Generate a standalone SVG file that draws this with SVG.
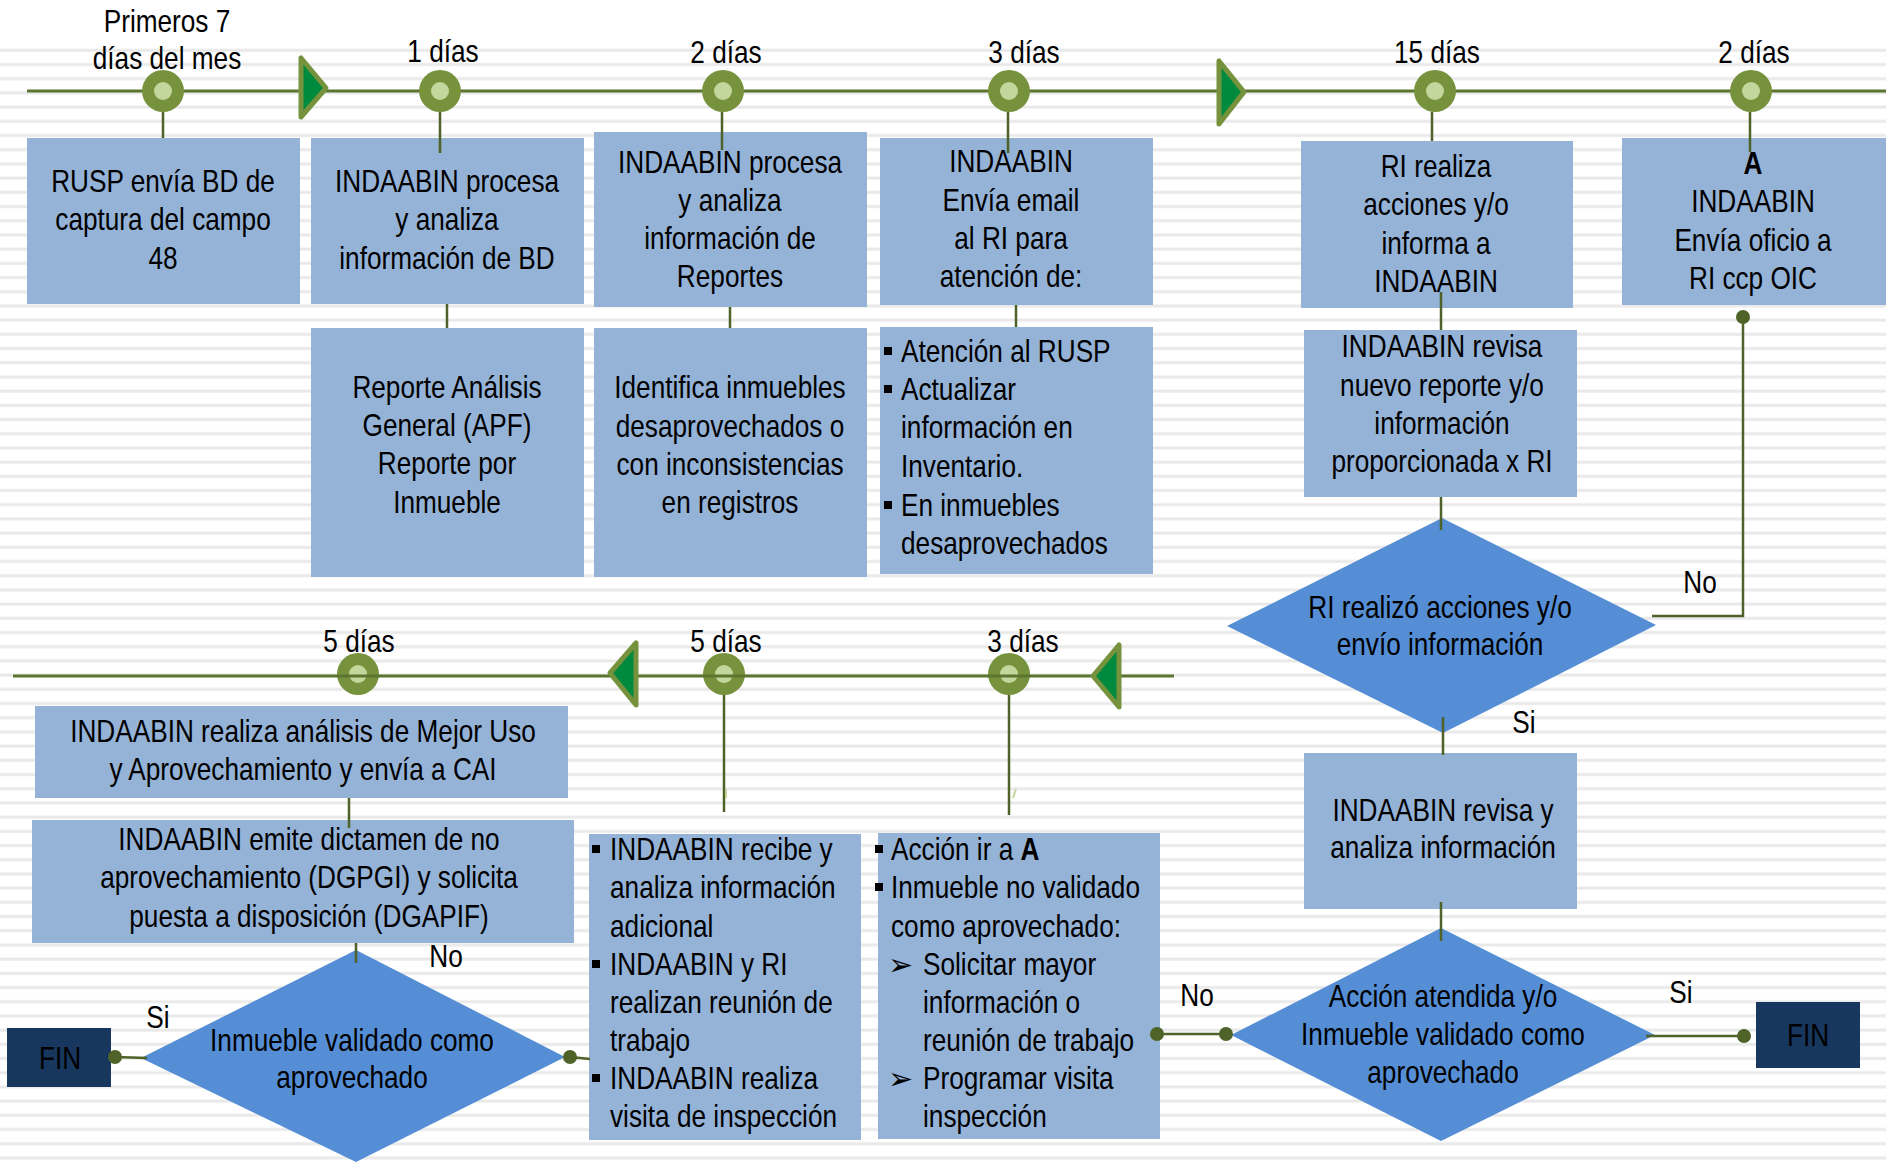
<svg xmlns="http://www.w3.org/2000/svg" width="1886" height="1162" viewBox="0 0 1886 1162">
<defs>
<pattern id="stripes" x="0" y="0" width="40" height="14.2" patternUnits="userSpaceOnUse">
<rect x="0" y="6.2" width="40" height="3" fill="#e9e9e9"/>
</pattern>
<style>
.t{font-family:"Liberation Sans",Arial,sans-serif;font-size:31px;fill:#000}
.box{fill:#95B3D7}
.dia{fill:#558ED5}
.fin{fill:#17375E}
.ln{stroke:#4F6228;stroke-width:2.5;fill:none}
.tl{stroke:#5B7530;stroke-width:3;fill:none}
.dot{fill:#4F6228}
.co{fill:#76923C}
.ci{fill:#C3D69B}
.tri{fill:#008A3E;stroke:#76923C;stroke-width:5;stroke-linejoin:round}
.bul{fill:#000}
.arr{font-family:"DejaVu Sans",sans-serif;font-size:30px;fill:#000}
</style>
</defs>
<rect x="0" y="0" width="1886" height="1162" fill="#fff"/>
<rect x="0" y="44" width="1886" height="1118" fill="url(#stripes)"/>

<g id="timeline-bottom-markers">
<circle class="co" cx="358" cy="674" r="21"/><circle class="ci" cx="358" cy="674" r="9"/>
<circle class="co" cx="724" cy="674" r="21"/><circle class="ci" cx="724" cy="674" r="9"/>
<circle class="co" cx="1009" cy="674" r="21"/><circle class="ci" cx="1009" cy="674" r="9"/>
</g>

<g id="labels">
<text class="t" text-anchor="middle" transform="matrix(0.845 0 0 1 167 0)"><tspan x="0" y="32">Primeros 7</tspan><tspan x="0" y="69">días del mes</tspan></text>
<text class="t" text-anchor="middle" transform="matrix(0.845 0 0 1 443 0)"><tspan x="0" y="62">1 días</tspan></text>
<text class="t" text-anchor="middle" transform="matrix(0.845 0 0 1 726 0)"><tspan x="0" y="63">2 días</tspan></text>
<text class="t" text-anchor="middle" transform="matrix(0.845 0 0 1 1024 0)"><tspan x="0" y="63">3 días</tspan></text>
<text class="t" text-anchor="middle" transform="matrix(0.845 0 0 1 1437 0)"><tspan x="0" y="63">15 días</tspan></text>
<text class="t" text-anchor="middle" transform="matrix(0.845 0 0 1 1754 0)"><tspan x="0" y="63">2 días</tspan></text>
<text class="t" text-anchor="middle" transform="matrix(0.845 0 0 1 359 0)"><tspan x="0" y="652">5 días</tspan></text>
<text class="t" text-anchor="middle" transform="matrix(0.845 0 0 1 726 0)"><tspan x="0" y="652">5 días</tspan></text>
<text class="t" text-anchor="middle" transform="matrix(0.845 0 0 1 1023 0)"><tspan x="0" y="652">3 días</tspan></text>
<text class="t" text-anchor="middle" transform="matrix(0.845 0 0 1 1700 0)"><tspan x="0" y="593">No</tspan></text>
<text class="t" text-anchor="middle" transform="matrix(0.845 0 0 1 1524 0)"><tspan x="0" y="733">Si</tspan></text>
<text class="t" text-anchor="middle" transform="matrix(0.845 0 0 1 1681 0)"><tspan x="0" y="1003">Si</tspan></text>
<text class="t" text-anchor="middle" transform="matrix(0.845 0 0 1 1197 0)"><tspan x="0" y="1006">No</tspan></text>
<text class="t" text-anchor="middle" transform="matrix(0.845 0 0 1 446 0)"><tspan x="0" y="967">No</tspan></text>
<text class="t" text-anchor="middle" transform="matrix(0.845 0 0 1 158 0)"><tspan x="0" y="1028">Si</tspan></text>
</g>

<g id="n-rusp">
<rect class="box" x="27" y="138" width="273" height="166"/>
<text class="t" text-anchor="middle" transform="matrix(0.845 0 0 1 163 0)"><tspan x="0" y="192">RUSP envía BD de</tspan><tspan x="0" y="230">captura del campo</tspan><tspan x="0" y="269">48</tspan></text>
</g>
<g id="n-procesa-bd">
<rect class="box" x="311" y="138" width="273" height="166"/>
<text class="t" text-anchor="middle" transform="matrix(0.845 0 0 1 447 0)"><tspan x="0" y="192">INDAABIN procesa</tspan><tspan x="0" y="230">y analiza</tspan><tspan x="0" y="269">información de BD</tspan></text>
</g>
<g id="n-procesa-rep">
<rect class="box" x="594" y="132" width="273" height="175"/>
<text class="t" text-anchor="middle" transform="matrix(0.845 0 0 1 730 0)"><tspan x="0" y="173">INDAABIN procesa</tspan><tspan x="0" y="211">y analiza</tspan><tspan x="0" y="249">información de</tspan><tspan x="0" y="287">Reportes</tspan></text>
</g>
<g id="n-email">
<rect class="box" x="880" y="138" width="273" height="167"/>
<text class="t" text-anchor="middle" transform="matrix(0.845 0 0 1 1011 0)"><tspan x="0" y="172">INDAABIN</tspan><tspan x="0" y="211">Envía email</tspan><tspan x="0" y="249">al RI para</tspan><tspan x="0" y="287">atención de:</tspan></text>
</g>
<g id="n-ri-realiza">
<rect class="box" x="1301" y="141" width="272" height="167"/>
<text class="t" text-anchor="middle" transform="matrix(0.845 0 0 1 1436 0)"><tspan x="0" y="177">RI realiza</tspan><tspan x="0" y="215">acciones y/o</tspan><tspan x="0" y="254">informa a</tspan><tspan x="0" y="292">INDAABIN</tspan></text>
</g>
<g id="n-oficio">
<rect class="box" x="1622" y="138" width="264" height="167"/>
<text class="t" text-anchor="middle" transform="matrix(0.845 0 0 1 1753 0)"><tspan x="0" y="174" font-weight="bold">A</tspan><tspan x="0" y="212">INDAABIN</tspan><tspan x="0" y="251">Envía oficio a</tspan><tspan x="0" y="289">RI ccp OIC</tspan></text>
</g>
<g id="n-reporte">
<rect class="box" x="311" y="328" width="273" height="249"/>
<text class="t" text-anchor="middle" transform="matrix(0.845 0 0 1 447 0)"><tspan x="0" y="398">Reporte Análisis</tspan><tspan x="0" y="436">General (APF)</tspan><tspan x="0" y="474">Reporte por</tspan><tspan x="0" y="513">Inmueble</tspan></text>
</g>
<g id="n-identifica">
<rect class="box" x="594" y="328" width="273" height="249"/>
<text class="t" text-anchor="middle" transform="matrix(0.845 0 0 1 730 0)"><tspan x="0" y="398">Identifica inmuebles</tspan><tspan x="0" y="437">desaprovechados o</tspan><tspan x="0" y="475">con inconsistencias</tspan><tspan x="0" y="513">en registros</tspan></text>
</g>
<g id="n-atencion">
<rect class="box" x="880" y="327" width="273" height="247"/>
<rect class="bul" x="884" y="347" width="8" height="8"/>
<rect class="bul" x="884" y="385" width="8" height="8"/>
<rect class="bul" x="884" y="501" width="8" height="8"/>
<text class="t" transform="matrix(0.845 0 0 1 901 0)"><tspan x="0" y="362">Atención al RUSP</tspan><tspan x="0" y="400">Actualizar</tspan><tspan x="0" y="438">información en</tspan><tspan x="0" y="477">Inventario.</tspan><tspan x="0" y="516">En inmuebles</tspan><tspan x="0" y="554">desaprovechados</tspan></text>
</g>
<g id="n-revisa-reporte">
<rect class="box" x="1304" y="330" width="273" height="167"/>
<text class="t" text-anchor="middle" transform="matrix(0.845 0 0 1 1442 0)"><tspan x="0" y="357">INDAABIN revisa</tspan><tspan x="0" y="396">nuevo reporte y/o</tspan><tspan x="0" y="434">información</tspan><tspan x="0" y="472">proporcionada x RI</tspan></text>
</g>
<g id="n-dec-ri">
<polygon class="dia" points="1442,518 1656,625 1443,733 1227,626"/>
<text class="t" text-anchor="middle" transform="matrix(0.845 0 0 1 1440 0)"><tspan x="0" y="618">RI realizó acciones y/o</tspan><tspan x="0" y="655">envío información</tspan></text>
</g>
<g id="n-revisa-analiza">
<rect class="box" x="1304" y="753" width="273" height="156"/>
<text class="t" text-anchor="middle" transform="matrix(0.845 0 0 1 1443 0)"><tspan x="0" y="821">INDAABIN revisa y</tspan><tspan x="0" y="858">analiza información</tspan></text>
</g>
<g id="n-dec-accion">
<polygon class="dia" points="1441,928 1655,1035 1441,1141 1231,1035"/>
<text class="t" text-anchor="middle" transform="matrix(0.845 0 0 1 1443 0)"><tspan x="0" y="1007">Acción atendida y/o</tspan><tspan x="0" y="1045">Inmueble validado como</tspan><tspan x="0" y="1083">aprovechado</tspan></text>
</g>
<g id="n-fin-right">
<rect class="fin" x="1756" y="1002" width="104" height="66"/>
<text class="t" text-anchor="middle" transform="matrix(0.845 0 0 1 1808 0)"><tspan x="0" y="1046">FIN</tspan></text>
</g>
<g id="n-accion-a">
<rect class="box" x="878" y="833" width="282" height="306"/>
<rect class="bul" x="875" y="845" width="8" height="8"/>
<rect class="bul" x="875" y="883" width="8" height="8"/>
<text class="t" transform="matrix(0.845 0 0 1 891 0)"><tspan x="0" y="860">Acción ir a <tspan font-weight="bold">A</tspan></tspan><tspan x="0" y="898">Inmueble no validado</tspan><tspan x="0" y="937">como aprovechado:</tspan></text>
<text class="arr" x="888" y="975">➢</text>
<text class="arr" x="888" y="1089">➢</text>
<text class="t" transform="matrix(0.845 0 0 1 923 0)"><tspan x="0" y="975">Solicitar mayor</tspan><tspan x="0" y="1013">información o</tspan><tspan x="0" y="1051">reunión de trabajo</tspan><tspan x="0" y="1089">Programar visita</tspan><tspan x="0" y="1127">inspección</tspan></text>
</g>
<g id="n-recibe">
<rect class="box" x="589" y="834" width="272" height="306"/>
<rect class="bul" x="592" y="845" width="8" height="8"/>
<rect class="bul" x="592" y="960" width="8" height="8"/>
<rect class="bul" x="592" y="1074" width="8" height="8"/>
<text class="t" transform="matrix(0.845 0 0 1 610 0)"><tspan x="0" y="860">INDAABIN recibe y</tspan><tspan x="0" y="898">analiza información</tspan><tspan x="0" y="937">adicional</tspan><tspan x="0" y="975">INDAABIN y RI</tspan><tspan x="0" y="1013">realizan reunión de</tspan><tspan x="0" y="1051">trabajo</tspan><tspan x="0" y="1089">INDAABIN realiza</tspan><tspan x="0" y="1127">visita de inspección</tspan></text>
</g>
<g id="n-mejor-uso">
<rect class="box" x="35" y="706" width="533" height="92"/>
<text class="t" text-anchor="middle" transform="matrix(0.845 0 0 1 303 0)"><tspan x="0" y="742">INDAABIN realiza análisis de Mejor Uso</tspan><tspan x="0" y="780">y Aprovechamiento y envía a CAI</tspan></text>
</g>
<g id="n-dictamen">
<rect class="box" x="32" y="820" width="542" height="123"/>
<text class="t" text-anchor="middle" transform="matrix(0.845 0 0 1 309 0)"><tspan x="0" y="850">INDAABIN emite dictamen de no</tspan><tspan x="0" y="888">aprovechamiento (DGPGI) y solicita</tspan><tspan x="0" y="927">puesta a disposición (DGAPIF)</tspan></text>
</g>
<g id="n-dec-validado">
<polygon class="dia" points="356,950 565,1057 356,1162 141,1058"/>
<text class="t" text-anchor="middle" transform="matrix(0.845 0 0 1 352 0)"><tspan x="0" y="1051">Inmueble validado como</tspan><tspan x="0" y="1088">aprovechado</tspan></text>
</g>
<g id="n-fin-left">
<rect class="fin" x="7" y="1028" width="104" height="59"/>
<text class="t" text-anchor="middle" transform="matrix(0.845 0 0 1 60 0)"><tspan x="0" y="1069">FIN</tspan></text>
</g>

<g id="connectors">
<path class="tl" d="M27 91 H1886"/>
<path class="ln" d="M163 112 V138 M440 112 V153 M722 112 V150 M1008 112 V153 M1432 112 V141 M1750 112 V152"/>
<path class="ln" d="M447 304 V328 M730 307 V328 M1016 305 V327 M1441 292 V330 M1441 497 V530 M1443 717 V755 M1441 902 V941"/>
<path class="ln" d="M1652 616 H1743 V317"/>
<circle class="dot" cx="1743" cy="317" r="7"/>
<path class="ln" d="M1646 1036 H1744"/>
<circle class="dot" cx="1744" cy="1036" r="7"/>
<path class="ln" d="M1157 1034 H1226"/>
<circle class="dot" cx="1157" cy="1034" r="7"/>
<circle class="dot" cx="1226" cy="1034" r="7"/>
<path class="tl" d="M13 676 H1174"/>
<path class="ln" d="M724 695 V812 M1009 695 V815 M349 798 V828 M356 943 V963"/>
<path d="M726 789 V798 M1013 798 L1016 789" stroke="#C3D69B" stroke-width="2" fill="none"/>
<path class="ln" d="M115 1057 L147 1058"/>
<circle class="dot" cx="115" cy="1057" r="7"/>
<path class="ln" d="M570 1057 L590 1059"/>
<circle class="dot" cx="570" cy="1057" r="7"/>
</g>

<g id="timeline-top-markers">
<circle class="co" cx="163" cy="91" r="21"/><circle class="ci" cx="163" cy="91" r="9"/>
<circle class="co" cx="440" cy="91" r="21"/><circle class="ci" cx="440" cy="91" r="9"/>
<circle class="co" cx="723" cy="91" r="21"/><circle class="ci" cx="723" cy="91" r="9"/>
<circle class="co" cx="1009" cy="91" r="21"/><circle class="ci" cx="1009" cy="91" r="9"/>
<circle class="co" cx="1435" cy="91" r="21"/><circle class="ci" cx="1435" cy="91" r="9"/>
<circle class="co" cx="1751" cy="91" r="21"/><circle class="ci" cx="1751" cy="91" r="9"/>
<polygon class="tri" points="301,58 301,117 326,88"/>
<polygon class="tri" points="1219,61 1219,124 1244,92"/>
<polygon class="tri" points="636,643 636,705 610,673"/>
<polygon class="tri" points="1119,645 1119,707 1093,676"/>
</g>
</svg>
